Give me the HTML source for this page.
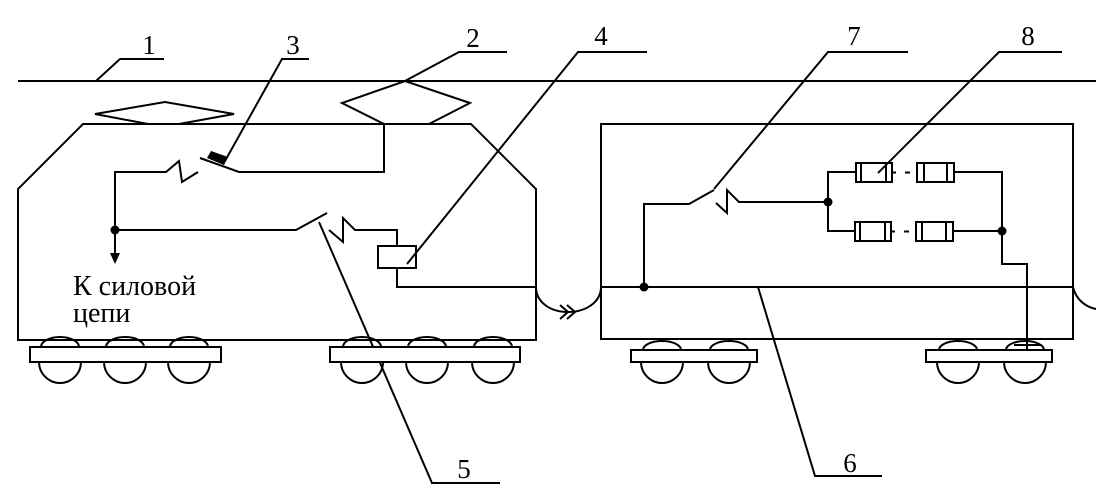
<!DOCTYPE html>
<html><head><meta charset="utf-8"><style>
html,body{margin:0;padding:0;background:#fff;}
svg{display:block;}
text{font-family:"Liberation Serif",serif;fill:#000;}
</style></head><body>
<svg width="1096" height="488" viewBox="0 0 1096 488" xmlns="http://www.w3.org/2000/svg">
<g stroke="#000" stroke-width="2" fill="none">
<line x1="18" y1="81" x2="1096" y2="81"/>
<polyline points="96,81 120,59 164,59"/>
<polyline points="225,161 282,59 309,59"/>
<polyline points="405,81 459,52 507,52"/>
<polyline points="407,264 578,52 647,52"/>
<polyline points="319,222 432,483 500,483"/>
<polyline points="758,287 815,476 882,476"/>
<polyline points="714,189 828,52 908,52"/>
<polyline points="878,173 999,52 1062,52"/>
<polygon points="83,124 471,124 536,189 536,340 18,340 18,189"/>
<polyline points="148,124 95,114 165,102 234,114 179,124"/>
<polyline points="384,124 342,103 405,81 470,103 429,124"/>
<path d="M39,362 a21,21 0 0 0 42,0 M104,362 a21,21 0 0 0 42,0 M168,362 a21,21 0 0 0 42,0"/>
<path d="M41,347 a19,10 0 0 1 38,0 M106,347 a19,10 0 0 1 38,0 M170,347 a19,10 0 0 1 38,0"/>
<rect x="30" y="347" width="191" height="15" fill="#fff"/>
<path d="M341,362 a21,21 0 0 0 42,0 M406,362 a21,21 0 0 0 42,0 M472,362 a21,21 0 0 0 42,0"/>
<path d="M343,347 a19,10 0 0 1 38,0 M408,347 a19,10 0 0 1 38,0 M474,347 a19,10 0 0 1 38,0"/>
<rect x="330" y="347" width="190" height="15" fill="#fff"/>
<polyline points="384,124 384,172 239,172 200,158"/>
<polyline points="115,230 115,172 166,172 179,161 182,182 198,172"/>
<line x1="115" y1="230" x2="115" y2="255"/>
<polyline points="115,230 296,230 327,213"/>
<polyline points="329,230 343,242 343,218 355,230 397,230 397,246"/>
<rect x="378" y="246" width="38" height="22"/>
<polyline points="397,268 397,287 536,287"/>
<path d="M536,287 C536,302 550,312 568,312 C586,312 601,302 601,287"/>
<path d="M560,305 l8,7 l-8,7 M567,305 l8,7 l-8,7"/>
<rect x="601" y="124" width="472" height="215"/>
<line x1="601" y1="287" x2="1073" y2="287"/>
<path d="M1073,287 C1076,300 1086,307 1096,309"/>
<polyline points="644,287 644,204 689,204 714,190"/>
<polyline points="716,203 727,213 727,190 739,202 828,202"/>
<polyline points="856,172 828,172 828,231 856,231"/>
<rect x="856" y="163" width="36" height="19"/>
<line x1="861" y1="163" x2="861" y2="182"/><line x1="886" y1="163" x2="886" y2="182"/>
<rect x="917" y="163" width="37" height="19"/>
<line x1="924" y1="163" x2="924" y2="182"/><line x1="947" y1="163" x2="947" y2="182"/>
<rect x="855" y="222" width="36" height="19"/>
<line x1="860" y1="222" x2="860" y2="241"/><line x1="885" y1="222" x2="885" y2="241"/>
<rect x="916" y="222" width="37" height="19"/>
<line x1="922" y1="222" x2="922" y2="241"/><line x1="946" y1="222" x2="946" y2="241"/>
<path d="M892,172.5 h4 M905,172.5 h5 M891,231.5 h4 M904,231.5 h5"/>
<polyline points="954,172 1002,172 1002,264 1027,264 1027,345"/>
<line x1="953" y1="231" x2="1002" y2="231"/>
<line x1="1014" y1="345" x2="1041" y2="345"/>
<path d="M641,362 a21,21 0 0 0 42,0 M708,362 a21,21 0 0 0 42,0"/>
<path d="M643,350 a19,9 0 0 1 38,0 M710,350 a19,9 0 0 1 38,0"/>
<rect x="631" y="350" width="126" height="12" fill="#fff"/>
<path d="M937,362 a21,21 0 0 0 42,0 M1004,362 a21,21 0 0 0 42,0"/>
<path d="M939,350 a19,9 0 0 1 38,0 M1006,350 a19,9 0 0 1 38,0"/>
<rect x="926" y="350" width="126" height="12" fill="#fff"/>
<line x1="1027" y1="345" x2="1027" y2="350"/>
</g>
<g fill="#000">
<polygon points="207,158 211,151 228,157 224,165"/>
<circle cx="115" cy="230" r="4.5"/>
<polygon points="110,253 120,253 115,264"/>
<circle cx="644" cy="287" r="4.5"/>
<circle cx="828" cy="202" r="4.5"/>
<circle cx="1002" cy="231" r="4.5"/>
</g>
<g font-size="27" text-anchor="middle">
<text x="149" y="54">1</text>
<text x="293" y="54">3</text>
<text x="473" y="47">2</text>
<text x="601" y="45">4</text>
<text x="854" y="45">7</text>
<text x="1028" y="45">8</text>
<text x="464" y="478">5</text>
<text x="850" y="472">6</text>
</g>
<text x="73" y="295" font-size="28">К силовой</text>
<text x="73" y="322" font-size="28">цепи</text>
</svg>
</body></html>
